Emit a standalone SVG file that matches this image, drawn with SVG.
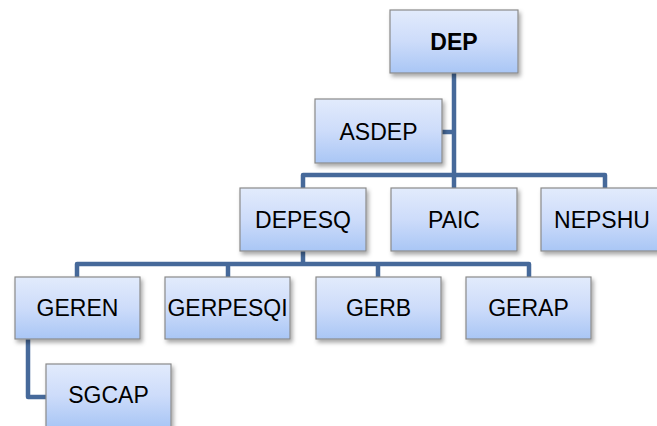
<svg xmlns="http://www.w3.org/2000/svg" width="657" height="426" viewBox="0 0 657 426">
<defs>
<linearGradient id="g" x1="0" y1="0" x2="0" y2="1">
<stop offset="0" stop-color="#e2ebfc"/>
<stop offset="0.5" stop-color="#cddcfa"/>
<stop offset="1" stop-color="#a9c6f5"/>
</linearGradient>
<filter id="sh" x="-10%" y="-10%" width="130%" height="140%">
<feDropShadow dx="2" dy="3" stdDeviation="2" flood-color="#000" flood-opacity="0.35"/>
</filter>
</defs>
<style>
.box{fill:url(#g);stroke:#8a8a8a;stroke-width:1.2;filter:url(#sh)}
.t{font-family:"Liberation Sans",Arial,sans-serif;font-size:23px;fill:#000;text-anchor:middle}
.b{font-weight:bold}
.c{fill:none;stroke:#46699a;stroke-width:4.5;stroke-linejoin:round;stroke-linecap:butt}
</style>
<rect width="657" height="426" fill="#fff"/>
<g id="connectors">
<path class="c" d="M454 73 V175"/>
<path class="c" d="M442 132 H454"/>
<path class="c" d="M303 188 V175 H605 V188"/>
<path class="c" d="M454 175 V188"/>
<path class="c" d="M303 251 V264"/>
<path class="c" d="M77 277 V264 H529 V277"/>
<path class="c" d="M228 264 V277"/>
<path class="c" d="M378 264 V277"/>
<path class="c" d="M28 339 V397 H46"/>
</g>
<g id="DEP"><rect class="box" x="390" y="10" width="128" height="63"/><text class="t b" x="454" y="50">DEP</text></g>
<g id="ASDEP"><rect class="box" x="315" y="99" width="127" height="64"/><text class="t" x="378.5" y="140">ASDEP</text></g>
<g id="DEPESQ"><rect class="box" x="240" y="188" width="126" height="63"/><text class="t" x="303" y="228">DEPESQ</text></g>
<g id="PAIC"><rect class="box" x="391" y="188" width="126" height="63"/><text class="t" x="454" y="228">PAIC</text></g>
<g id="NEPSHU"><rect class="box" x="541" y="188" width="126" height="63"/><text class="t" x="602" y="228">NEPSHU</text></g>
<g id="GEREN"><rect class="box" x="15" y="277" width="125" height="62"/><text class="t" x="77.5" y="316">GEREN</text></g>
<g id="GERPESQI"><rect class="box" x="165" y="277" width="125" height="62"/><text class="t" x="227.5" y="316">GERPESQI</text></g>
<g id="GERB"><rect class="box" x="316" y="277" width="125" height="62"/><text class="t" x="378.5" y="316">GERB</text></g>
<g id="GERAP"><rect class="box" x="466" y="277" width="125" height="62"/><text class="t" x="528.5" y="316">GERAP</text></g>
<g id="SGCAP"><rect class="box" x="46" y="364" width="125" height="63"/><text class="t" x="108.5" y="403">SGCAP</text></g>
</svg>
